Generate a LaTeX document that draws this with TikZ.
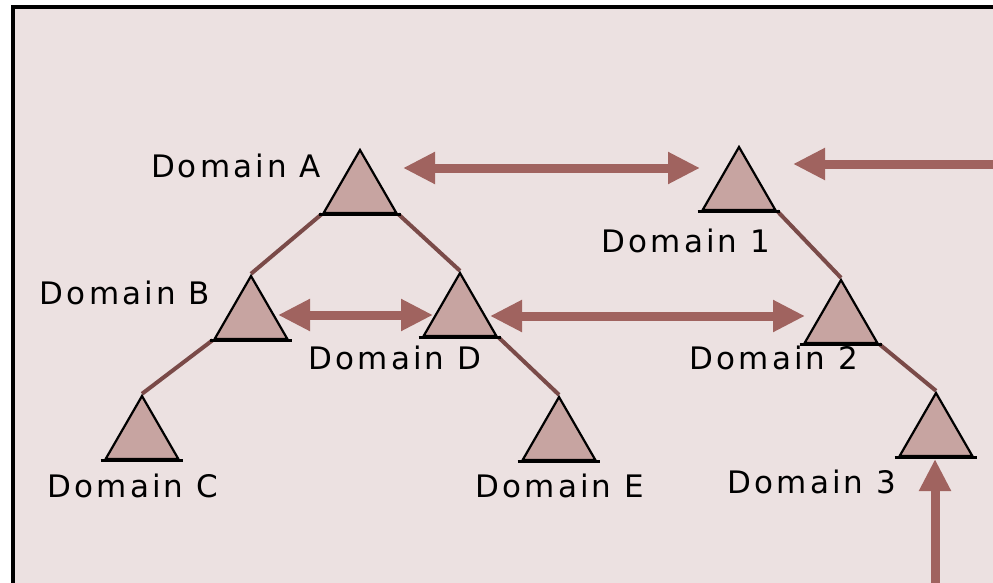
\documentclass[tikz,border=0pt]{standalone}
\usepackage{fontspec}
\setmainfont{DejaVu Sans}[LetterSpace=10]
\usetikzlibrary{shapes.geometric, arrows.meta, backgrounds}

\definecolor{paper}{RGB}{236,225,225}
\definecolor{domfill}{RGB}{199,164,161}
\definecolor{trust}{RGB}{160,99,95}
\definecolor{treeline}{RGB}{122,74,72}

\tikzstyle{domtri}   = [regular polygon, regular polygon sides=3, minimum size=84pt,
                        inner sep=0pt, draw=black, line width=2.2pt, fill=domfill]
\tikzstyle{domname}  = [font=\fontsize{31}{36}\selectfont, inner sep=0pt]
\tikzstyle{branch}   = [line width=4pt, draw=treeline]
\tikzstyle{oneway}   = [line width=9pt, draw=trust, -{Triangle[length=32pt,width=30pt]}]
\tikzstyle{twoway}   = [line width=9pt, draw=trust,
                        {Triangle[length=32pt,width=30pt]}-{Triangle[length=32pt,width=30pt]}]

\begin{document}
\begin{tikzpicture}[x=1pt, y=-1pt]

  \useasboundingbox (0,0) rectangle (993,583);
  \clip (0,0) rectangle (993,583);

  % Forest one
  \node (domA) [domtri] at (360,192) {};
  \node (domB) [domtri] at (251,318) {};
  \node (domD) [domtri] at (460,315) {};
  \node (domC) [domtri] at (142,438) {};
  \node (domE) [domtri] at (559,439) {};

  % Forest two
  \node (dom1) [domtri] at (739,189) {};
  \node (dom2) [domtri] at (841,322) {};
  \node (dom3) [domtri] at (936,435) {};

  % heavier base line on every triangle
  \foreach \d in {domA,domB,domC,domD,domE,dom1,dom2,dom3}
    \draw[line width=2.8pt] ([xshift=-3pt]\d.corner 2) -- ([xshift=3pt]\d.corner 3);

  % Names
  \node (labA) [domname] at (236,166) {Domain A};
  \node (labB) [domname] at (125,293) {Domain B};
  \node (labC) [domname] at (133,486) {Domain C};
  \node (labD) [domname] at (395,358) {Domain D};
  \node (labE) [domname] at (560,486) {Domain E};
  \node (lab1) [domname] at (686,241) {Domain 1};
  \node (lab2) [domname] at (774,358) {Domain 2};
  \node (lab3) [domname] at (812,482) {Domain 3};

  % Frame, then parent -> child lines, all behind the triangles
  \begin{pgfonlayer}{background}
    \draw[line width=4pt, fill=paper] (13,7) rectangle (1010,600);
    \draw[branch] (domA.corner 2) -- (domB.corner 1);
    \draw[branch] (domA.corner 3) -- (domD.corner 1);
    \draw[branch] (domB.corner 2) -- (domC.corner 1);
    \draw[branch] (domD.corner 3) -- (domE.corner 1);
    \draw[branch] (dom1.corner 3) -- (dom2.corner 1);
    \draw[branch] (dom2.corner 3) -- (dom3.corner 1);
  \end{pgfonlayer}

  % Trusts
  \coordinate (farEast)  at (1000,164);
  \coordinate (farSouth) at (935,600);
  \draw[twoway] ([shift={(43,-24)}]domA.center) -- ([shift={(-39,-21)}]dom1.center);
  \draw[twoway] ([shift={(27,-3)}]domB.center)  -- ([shift={(-27,0)}]domD.center);
  \draw[twoway] ([shift={(30,1)}]domD.center)   -- ([shift={(-36,-6)}]dom2.center);
  \draw[oneway] (farEast)  -- ([shift={(54,-25)}]dom1.center);
  \draw[oneway] (farSouth) -- ([shift={(-1,24)}]dom3.center);

\end{tikzpicture}
\end{document}
